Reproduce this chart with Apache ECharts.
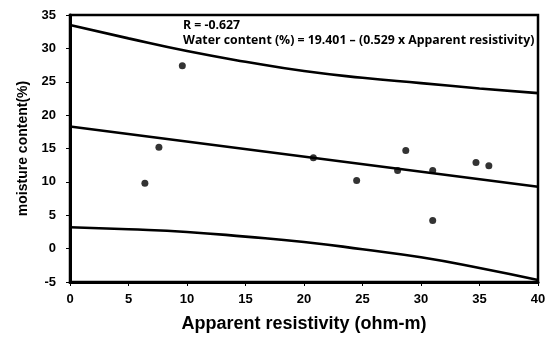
<!DOCTYPE html>
<html><head><meta charset="utf-8">
<script src="https://cdn.jsdelivr.net/npm/echarts@6/dist/echarts.min.js"></script>
<style>html,body{margin:0;padding:0;background:#fff}#c{width:560px;height:338px}</style>
</head><body><div id="c"></div>
<script>
const resistivity = [6.4, 7.6, 9.6, 20.8, 24.5, 28.0, 28.7, 31.0, 31.0, 34.7, 35.8];
const moisture    = [9.8, 15.2, 27.4, 13.6, 10.2, 11.7, 14.7, 11.7, 4.2, 12.9, 12.4];
const bandX   = [0, 5, 10, 15, 20, 25, 30, 35, 40];
const upper   = [33.5, 31.5, 29.6, 28.0, 26.6, 25.6, 24.8, 24.0, 23.3];
const lower   = [3.2, 2.9, 2.5, 1.8, 1.0, -0.1, -1.3, -2.9, -4.7];
const fitX    = [0, 40];
const fitY    = [18.3, 9.27];
const xTicks  = {min: 0, max: 40, step: 5};
const yTicks  = {min: -5, max: 35, step: 5};
const rText   = 'R = -0.627';
const eqText  = 'Water content (%) = 19.401 \u2013 (0.529 x Apparent resistivity)';

const pair = (xs, ys) => xs.map((x, i) => [x, ys[i]]);
const chart = echarts.init(document.getElementById('c'), null, {renderer: 'canvas'});
const lineStyle = {color: '#000', width: 2.6};
const labelFont = {color: '#000', fontWeight: 'bold', fontFamily: 'Liberation Sans, Arial', fontSize: 13};
chart.setOption({
  animation: false,
  grid: {left: 70, right: 22, top: 15, bottom: 55, show: true, borderColor: '#000', borderWidth: 2.5},
  xAxis: {
    type: 'value', min: xTicks.min, max: xTicks.max, interval: xTicks.step,
    splitLine: {show: false},
    axisLine: {onZero: false, lineStyle: {color: '#000', width: 3}},
    axisTick: {length: 4, lineStyle: {color: '#000', width: 1}},
    axisLabel: Object.assign({margin: 11}, labelFont),
    name: 'Apparent resistivity (ohm-m)', nameLocation: 'middle', nameGap: 33,
    nameTextStyle: {color: '#000', fontWeight: 'bold', fontFamily: 'Liberation Sans, Arial', fontSize: 18}
  },
  yAxis: {
    type: 'value', min: yTicks.min, max: yTicks.max, interval: yTicks.step,
    splitLine: {show: false},
    axisLine: {onZero: false, lineStyle: {color: '#000', width: 3}},
    axisTick: {length: 4, lineStyle: {color: '#000', width: 1}},
    axisLabel: Object.assign({margin: 14}, labelFont),
    name: 'moisture content(%)', nameLocation: 'middle', nameGap: 40,
    nameTextStyle: {color: '#000', fontWeight: 'bold', fontFamily: 'Liberation Sans, Arial', fontSize: 14}
  },
  graphic: [
    {type: 'text', left: 183, top: 19, style: {text: rText, fill: '#000', font: 'bold 12.3px "Open Sans", sans-serif'}},
    {type: 'text', left: 183, top: 34, style: {text: eqText, fill: '#000', font: 'bold 12.3px "Open Sans", sans-serif'}}
  ],
  series: [
    {type: 'line', data: pair(bandX, upper), smooth: true, symbol: 'none', lineStyle: lineStyle, z: 3},
    {type: 'line', data: pair(bandX, lower), smooth: true, symbol: 'none', lineStyle: lineStyle, z: 3},
    {type: 'line', data: pair(fitX, fitY), symbol: 'none', lineStyle: lineStyle, z: 3},
    {type: 'scatter', data: pair(resistivity, moisture), symbol: 'circle', symbolSize: 7,
     itemStyle: {color: '#000'}, z: 4}
  ]
});
</script></body></html>
